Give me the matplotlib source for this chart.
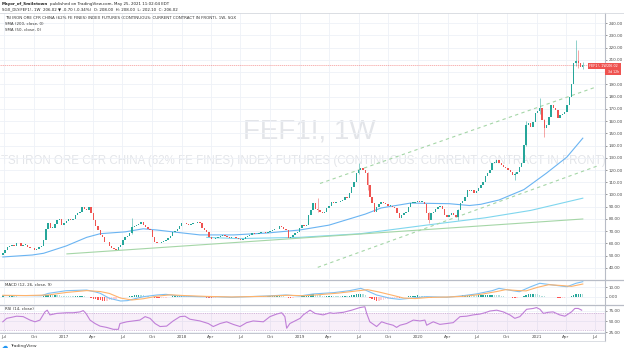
import numpy as np
import pandas as pd
import matplotlib
matplotlib.use("Agg")
import matplotlib.pyplot as plt
from matplotlib.patches import Rectangle

W, H = 624, 351

# weekly bars, first bar = week of 2016-06-27
start = pd.Timestamp("2016-06-27")
closes = [
    52, 55, 57, 58, 59, 58, 60, 60, 58, 59,
    59, 57, 56, 56, 55, 55.5, 57, 58, 63, 72,
    77, 73, 73, 76, 79, 80, 75, 77, 78, 80,
    79, 80, 83, 85, 86, 90, 88, 87, 90, 85,
    79, 74, 71, 67, 65, 61, 61, 58, 56, 55.5,
    55, 57, 59, 63, 65, 66, 68.5, 73.5, 74, 75,
    76, 77.5, 75, 73.5, 72, 71, 65, 61, 60, 60.5,
    61, 62, 63, 64.5, 66, 69, 70, 72, 74, 76.5,
    77, 76, 75, 76, 76.5, 77, 77.5, 77, 73, 71,
    69, 65, 63.5, 64, 64.5, 65, 66, 67, 66, 65,
    64.5, 65, 65.5, 64.5, 64, 63, 63.5, 65, 66, 67,
    68.5, 68, 67.5, 68.5, 69, 69, 68.5, 69, 70, 71,
    71.5, 72, 74, 73.5, 72, 71, 64.5, 65, 67, 68.5,
    69, 72.5, 75, 74.5, 75, 83, 87, 93, 88, 87,
    86, 85, 86, 89, 91, 94, 93, 93.5, 94, 95,
    95.5, 98, 97, 101, 106, 110, 117.5, 120, 121.6, 120,
    117.5, 107.7, 98, 93, 86, 90, 92, 94, 93, 92,
    91, 91, 90, 89, 85, 81, 83, 85, 86, 90,
    93, 93, 94, 94.5, 94, 94, 92, 85, 79, 85,
    86, 88, 90, 91, 88, 83, 81.6, 83, 85, 83,
    81.6, 87, 93, 95, 98, 104, 103, 104, 101, 103,
    105, 108, 110, 115, 117.5, 120, 125.7, 126, 128, 126,
    124, 122.5, 121.6, 120, 118, 116, 117, 118, 122.5, 126,
    140.4, 156.7, 158, 155, 159, 166.5, 168, 170.6, 161, 154,
    156.7, 163, 173, 171, 169, 162.5, 165, 166, 167, 173,
    180, 190, 207, 209, 207, 204, 206.02,
]
first_open = 51
# visible wicks (bar index, high, low)
wick_idx = [57, 139, 157, 161, 188, 201, 226, 231, 237, 239, 253, 254, 256]
wick_high = [81, 97, 126, 118, 86, 88, 118, 160, 179, 162, 226.5, 218, 208]
wick_low = [68, 86, 117, 104, 77, 79, 112, 140, 166, 147, 205, 203, 202.1]

# moving averages (bar index, value)
sma50_idx = [0, 13, 18, 28, 37, 43, 54, 62, 68, 75, 87, 102, 117, 131, 144, 160,
             167, 180, 197, 206, 211, 219, 230, 240, 249, 256]
sma50_val = [49, 50.6, 52, 58, 65, 68, 69.5, 72, 71, 69.5, 67, 67, 68.6, 71, 75, 84,
             89, 93, 92.5, 91, 92, 95.5, 104, 117.5, 130.6, 146]
sma200_idx = [90, 104, 131, 158, 187, 213, 233, 256]
sma200_val = [65, 64, 65, 68, 75, 81, 87, 97]

# drawn trend lines (bar index, price)
support_idx = [28.3, 256]
support_val = [51.5, 80]
upper_idx = [140, 262.2]
upper_val = [109, 188]
lower_idx = [139, 263.5]
lower_val = [40.5, 124]

# MACD (12, 26, 9)
macd_idx = [0, 8, 17, 20, 28, 37, 41, 43, 47, 52, 55, 62, 68, 72, 78, 87, 94, 101,
            116, 125, 131, 137, 146, 153, 158, 160, 165, 171, 175, 180, 187, 196,
            202, 209, 216, 219, 225, 228, 233, 237, 243, 249, 253, 256]
macd_val = [1.2, 1.2, 1.0, 3.5, 6.4, 7.1, 5, 3.6, -1.7, -4.6, -4.2, 0, 1.8, 2.5, 0.7,
            0, 0, -0.6, 0.7, 1.8, 0.7, 2.9, 4.3, 6.4, 8.9, 7.1, 1.8, -1.7, -2.8, -1.7,
            0, -0.6, 0.7, 2.9, 6.4, 8.9, 6.4, 5.3, 10.6, 14.3, 12.4, 10.6, 14.3, 16]
signal_idx = [0, 10, 20, 28, 37, 43, 47, 52, 57, 62, 68, 74, 80, 90, 101, 116, 126,
              133, 140, 148, 155, 161, 166, 172, 177, 182, 188, 197, 204, 211, 218,
              222, 227, 231, 236, 241, 246, 251, 256]
signal_val = [1.5, 1.2, 1.8, 4.5, 6.5, 5.5, 3.5, -1.5, -3.5, -2.2, 0.5, 2, 1.2, 0.3,
              -0.3, 0.4, 1.5, 1.0, 2.2, 3.8, 5.8, 7.5, 5, 1.5, -1.5, -2, -0.8, -0.3,
              0.5, 2.5, 5.5, 7.5, 6.6, 6.2, 10, 12.8, 12, 11, 13.5]
hist = (
    [0.3, 0.2, -0.2, 0.5, 0.6, 0.5, 0.3, 0.2, 0.0, -0.2]
    + [-0.3, -0.4, -0.5, -0.5, -0.4, -0.3, -0.3, -0.1]
    + [0.5, 1.5, 2.0, 2.0, 1.8, 1.8, 1.7, 1.5, 1.0, 0.8]
    + [0.6, 0.5, 0.4, 0.3, 0.3, 0.5, 0.7, 0.9, 0.6]
    + [0.2, -0.3, -1.2, -2.0, -2.8, -3.5, -4.0, -4.3, -4.5, -4.2, -3.8]
    + [-3.3, -2.8, -2.2, -1.7, -1.2, -0.8, -0.4, 0.0]
    + [0.6, 1.2, 1.8, 2.0, 2.0, 1.8, 1.4, 1.0, 0.6, 0.2]
    + [-0.4, -1.0, -1.4, -1.6, -1.5, -1.3, -1.0, -0.6, -0.2]
    + [0.3, 0.6, 0.9, 1.0, 1.0, 0.9]
    + [0.7, 0.5, 0.4, 0.3, 0.2, 0.2, 0.0, -0.3, -0.6, -0.9]
    + [-1.2, -1.3, -1.2, -1.0, -0.8, -0.6, -0.4, -0.4, -0.4, -0.4, -0.4]
    + [-0.4, -0.4, -0.5, -0.6, -0.5, -0.3, -0.1]
    + [0.1, 0.3, 0.4, 0.4, 0.4, 0.4, 0.4, 0.3, 0.3, 0.4, 0.5, 0.6, 0.7, 0.8, 0.7, 0.5]
    + [0.0, -0.9, -1.1, -1.0, -0.8, -0.5]
    + [-0.1, 0.4, 0.8, 1.0, 1.8, 2.4, 2.6, 2.2, 1.8, 1.4]
    + [1.0, 0.8, 0.8, 0.9, 1.0, 0.9, 0.8, 0.7, 0.6, 0.6, 0.7, 0.6]
    + [0.9, 1.3, 1.8, 2.4, 2.8, 2.8, 2.4, 1.6, 0.2]
    + [-1.5, -2.8, -3.8, -4.4, -4.4, -4.0, -3.4]
    + [-2.8, -2.3, -1.8, -1.4, -1.2, -1.2, -1.3]
    + [-1.0, -0.6, -0.2, 0.3, 0.7]
    + [1.0, 1.2, 1.3, 1.2, 1.0, 0.7, 0.0, -0.8, -0.9, -0.6]
    + [-0.3, 0.0, 0.1, -0.2, -0.6, -0.8, -0.7, -0.5]
    + [-0.3, -0.2, 0.2, 0.8, 1.3, 1.7, 2.0, 2.0, 1.9, 1.6, 1.5]
    + [1.5, 1.5, 1.6, 1.7, 1.8]
    + [1.9, 2.0, 1.9, 1.7, 1.4, 1.0, 0.6]
    + [0.2, -0.2, -0.6, -0.9, -1.0, -0.9, -0.6, -0.3]
    + [0.8, 2.0, 2.6, 2.8, 2.8, 2.6, 2.4, 2.0]
    + [1.2, 0.5, 0.0, -0.2, 0.0]
    + [-0.3, -0.7, -1.1, -1.3, -1.2, -0.9, -0.5]
    + [0.0, 0.8, 1.8, 2.4, 2.6, 2.6, 2.5]
)

# RSI (14)
rsi_idx = [0, 1.7, 6.1, 9, 12, 14.2, 16.4, 18.6, 19.6, 20.8, 23.8, 28.2, 31.1, 34.1,
           35.5, 36.7, 38.5, 40.7, 42.9, 45.8, 48.8, 51, 51.7, 54.7, 57.6, 60.5, 62.8,
           65, 67.2, 69.4, 72.3, 75.2, 78.2, 80.4, 82.6, 87, 90.7, 92.9, 95.9, 98.8,
           101.7, 104.7, 107.6, 110.5, 115, 117.9, 120.9, 123.1, 124.5, 125.3, 126.7,
           129.7, 131.2, 132.6, 135.6, 137.8, 141.4, 144.4, 145.9, 150.3, 154, 157.6,
           159.8, 160.6, 162, 165, 167.2, 169.4, 172.3, 173.8, 175.3, 178.2, 181.2,
           184.1, 186.3, 187.1, 188.5, 190, 192.9, 195.9, 198.8, 201.8, 204.7, 207.6,
           210.6, 212.8, 215, 218, 220.9, 223.8, 226, 228.2, 231.2, 234.1, 235.6,
           237.1, 238.6, 240.7, 242.9, 245.8, 248.1, 251, 252.5, 254, 255.5]
rsi_val = [49, 57, 62, 61, 53, 49, 53, 72, 76, 65, 68.5, 70, 70, 72, 75, 68.5, 53, 45,
           39, 36, 31.5, 31.5, 45, 49, 51, 53, 61, 57, 45, 38, 39, 51, 61, 62, 55, 51,
           45, 38, 45, 49, 43, 38, 47, 51, 49, 61, 67, 70, 61, 34, 45, 53, 57, 65, 76,
           68.5, 65, 70, 68.5, 71, 76, 82, 84, 68.5, 49, 38, 49, 45, 41, 36, 41, 45,
           53, 51, 53, 41, 45, 49, 43, 45, 47, 61, 62, 65, 67, 70, 74, 76, 72, 65, 57,
           61, 78, 80, 82, 78, 68.5, 71, 72, 65, 62, 72, 80, 80, 76]

month_dates = ["2016-07-01", "2016-10-01", "2017-01-01", "2017-04-01", "2017-07-01",
               "2017-10-01", "2018-01-01", "2018-04-01", "2018-07-01", "2018-10-01",
               "2019-01-01", "2019-04-01", "2019-07-01", "2019-10-01", "2020-01-01",
               "2020-04-01", "2020-07-01", "2020-10-01", "2021-01-01", "2021-04-01",
               "2021-07-01"]
month_labels = ["Jul", "Oct", "2017", "Apr", "Jul", "Oct", "2018", "Apr", "Jul", "Oct",
                "2019", "Apr", "Jul", "Oct", "2020", "Apr", "Jul", "Oct", "2021", "Apr",
                "Jul"]

# colours
UP, DOWN = "#26a69a", "#ef5350"
GRID = "#eef1f7"
SEP = "#b8bcc6"
TXT = "#4a4a4a"

n = len(closes)
idx = np.arange(n)
closes = np.array(closes, dtype=float)
opens = np.concatenate([[first_open], closes[:-1]])
tick_pos = [(pd.Timestamp(d) - start).days / 7 for d in month_dates]
xlim = (-1.24, 265.8)


def fx(px):
    return px / W


def fy(py):
    return 1 - py / H


fig = plt.figure(figsize=(W / 100, H / 100), dpi=100)
fig.patch.set_facecolor("white")

ax = fig.add_axes([0, fy(279), fx(605), 266 / H])
ax_m = fig.add_axes([0, fy(304), fx(605), 24 / H])
ax_r = fig.add_axes([0, fy(333), fx(605), 28 / H])

for a in (ax, ax_m, ax_r):
    a.set_xlim(*xlim)
    a.set_xticks(tick_pos)
    a.grid(True, color=GRID, lw=0.6)
    a.set_axisbelow(True)
    for s in ("top", "left", "bottom"):
        a.spines[s].set_visible(False)
    a.spines["right"].set_color(SEP)
    a.spines["right"].set_linewidth(0.8)
    a.yaxis.tick_right()
    a.tick_params(axis="y", labelsize=3, colors=TXT, length=1.2, width=0.4, pad=1.5)
    a.tick_params(axis="x", length=0, labelbottom=False)

# ---------------- main price panel ----------------
price_ticks = list(range(40, 250, 10))
ax.set_ylim(31, 248.2)
ax.set_yticks(price_ticks)
# the 200 label sits under the last-price tag
ax.set_yticklabels(["" if v == 200 else f"{v:.2f}" for v in price_ticks])

# watermark
ax.text(309 / 605, (279 - 131) / 266, "FEF1!, 1W", transform=ax.transAxes,
        ha="center", va="center", fontsize=20, color="#e3e5e9",
        family=["Liberation Sans", "DejaVu Sans"], zorder=0)
wm2 = ax.text(303 / 605, (279 - 161) / 266,
              "TSI IRON ORE CFR CHINA (62% FE FINES) INDEX FUTURES (CONTINUOUS: CURRENT CONTRACT IN FRONT)",
              transform=ax.transAxes, ha="center", va="center", fontsize=10,
              color="#e3e5e9", family=["Liberation Sans", "DejaVu Sans"], zorder=0)
fig.canvas.draw()
bb = wm2.get_window_extent()
wm2.set_fontsize(10 * 603 / bb.width)

# moving averages
ax.plot(sma200_idx, sma200_val, color="#7fd6ee", lw=0.8, zorder=2)
ax.plot(sma50_idx, sma50_val, color="#6ab4f2", lw=0.8, zorder=2)

# trend lines
ax.plot(support_idx, support_val, color="#a5d6a7", lw=0.8, zorder=2)
ax.plot(upper_idx, upper_val, color="#a5d6a7", lw=0.8, ls=(0, (3, 3)), zorder=2)
ax.plot(lower_idx, lower_val, color="#a5d6a7", lw=0.8, ls=(0, (3, 3)), zorder=2)

# last price line
ax.axhline(closes[-1], color="#ef5350", lw=0.5, alpha=0.6, ls=(0, (2, 1)), zorder=2)

# candles
cols = [UP if c >= o else DOWN for o, c in zip(opens, closes)]
body = np.abs(closes - opens)
body = np.where(body < 0.5, 0.5, body)
ax.bar(idx, body, bottom=np.minimum(opens, closes), width=0.62, color=cols,
       lw=0, zorder=3)
wick_cols = [cols[i] for i in wick_idx]
ax.vlines(wick_idx, wick_low, wick_high, colors=wick_cols, lw=0.45, zorder=3, alpha=0.8)

# ---------------- MACD panel ----------------
ax_m.set_ylim(-7.8, 17.8)
ax_m.set_yticks([0, 10])
ax_m.set_yticklabels(["0.00", "10.00"])
hcols = []
for i, h in enumerate(hist):
    prev = hist[i - 1] if i > 0 else h
    if h >= 0:
        hcols.append("#26a69a" if h >= prev else "#b2dfdb")
    else:
        hcols.append("#ff5252" if h < prev else "#ffcdd2")
ax_m.bar(idx, hist, width=0.62, color=hcols, lw=0, zorder=2)
ax_m.plot(macd_idx, macd_val, color="#7cc0f5", lw=0.8, zorder=3)
ax_m.plot(signal_idx, signal_val, color="#ffb36b", lw=0.8, zorder=3)

# ---------------- RSI panel ----------------
ax_r.set_ylim(23, 88)
ax_r.set_yticks([25, 50, 75])
ax_r.set_yticklabels(["25.00", "50.00", "75.00"])
ax_r.axhspan(30, 70, color="#9c27b0", alpha=0.07, lw=0, zorder=1)
for lvl in (30, 70):
    ax_r.axhline(lvl, color="#b58bc2", lw=0.4, ls=(0, (2, 2)), zorder=1)
ax_r.plot(rsi_idx, rsi_val, color="#c07fd8", lw=0.8, zorder=3)
ax_r.tick_params(axis="x", labelbottom=True, labelsize=3, colors=TXT, pad=1.5)
ax_r.set_xticklabels(month_labels)
ax_r.spines["bottom"].set_visible(True)
ax_r.spines["bottom"].set_color(SEP)
ax_r.spines["bottom"].set_linewidth(0.6)

# panel separators across the full width
for py in (279.5, 304.5):
    fig.add_artist(plt.Line2D([0, 1], [fy(py), fy(py)], color=SEP, lw=0.9))
fig.add_artist(plt.Line2D([0, 1], [fy(13), fy(13)], color="#d5d8de", lw=0.6))
fig.add_artist(plt.Line2D([fx(605), fx(605)], [fy(333), fy(341)], color=SEP, lw=0.8))
fig.add_artist(plt.Line2D([0, fx(605)], [fy(341), fy(341)], color="#d5d8de", lw=0.6))

# ---------------- header texts ----------------
name = fig.text(fx(2), fy(4), "Mayor_of_Smiletown", fontsize=2.9, fontweight="bold",
                color="#222", va="center")
fig.canvas.draw()
name_right = name.get_window_extent().x1 / W
fig.text(name_right + fx(1.5), fy(4),
         "published on TradingView.com, May 25, 2021 11:02:04 EDT",
         fontsize=2.9, color="#222", va="center")
fig.text(fx(2), fy(9.5), "SGX_DLY:FEF1!, 1W  206.02 \u25bc -0.70 (-0.34%)  O: 208.00  H: 208.00  L: 202.10  C: 206.02",
         fontsize=2.9, color="#222", va="center")
fig.text(fx(5), fy(18), "TSI IRON ORE CFR CHINA (62% FE FINES) INDEX FUTURES (CONTINUOUS: CURRENT CONTRACT IN FRONT), 1W, SGX",
         fontsize=2.9, color="#333", va="center")
fig.text(fx(5), fy(24), "SMA (200, close, 0)", fontsize=2.9, color="#333", va="center")
fig.text(fx(5), fy(30), "SMA (50, close, 0)", fontsize=2.9, color="#333", va="center")
fig.text(fx(5), fy(284.5), "MACD (12, 26, close, 9)", fontsize=2.9, color="#333", va="center")
fig.text(fx(5), fy(309.5), "RSI (14, close)", fontsize=2.9, color="#333", va="center")

# last price tag
fig.add_artist(Rectangle((fx(588), fy(69)), fx(33), 6 / H, color="#ef5350", lw=0))
fig.add_artist(Rectangle((fx(605), fy(75)), fx(16), 6 / H, color="#ef5350", lw=0))
fig.text(fx(589), fy(66), "FEF1!, 1W", fontsize=2.5, color="white", va="center")
fig.text(fx(607), fy(65.8), f"{closes[-1]:.2f}", fontsize=2.4, color="white", va="center")
fig.text(fx(607.5), fy(72.4), "3d 12h", fontsize=2.3, color="white", va="center")

# logo
fig.text(fx(2), fy(346), "\u2601", fontsize=4.5, color="#2196f3", va="center")
fig.text(fx(10), fy(346), "TradingView", fontsize=3.2, color="#333", va="center")

fig.savefig("out.png", dpi=100, facecolor="white")
